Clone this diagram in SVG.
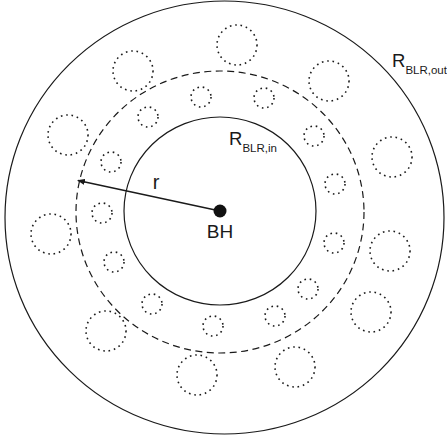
<svg xmlns="http://www.w3.org/2000/svg" width="447" height="441" viewBox="0 0 447 441">
<style>
.solid{fill:none;stroke:#1a1a1a;stroke-width:1.2}
.dash{fill:none;stroke:#1a1a1a;stroke-width:1.2;stroke-dasharray:7 4.5}
.dot{fill:none;stroke:#1a1a1a;stroke-width:1.6;stroke-dasharray:1.6 3.8}
.lbl{font-family:"Liberation Sans",Arial,sans-serif;fill:#1a1a1a}
</style>
<defs>
<marker id="ah" markerWidth="8" markerHeight="6" refX="7" refY="3" orient="auto" markerUnits="userSpaceOnUse">
<path d="M0,0 L8,3 L0,6 Z" fill="#1a1a1a"/>
</marker>
</defs>
<rect width="447" height="441" fill="#fff"/>
<g id="outer-boundary"><ellipse class="solid" cx="224.5" cy="217.5" rx="219.5" ry="216.5"/></g>
<g id="inner-boundary"><ellipse class="solid" cx="220" cy="211" rx="96" ry="94"/></g>
<g id="radius-r"><ellipse class="dash" cx="220" cy="212" rx="144" ry="141"/></g>
<g id="clouds-large">
<circle class="dot" cx="237" cy="45" r="20"/>
<circle class="dot" cx="133" cy="71" r="20"/>
<circle class="dot" cx="329" cy="81" r="20"/>
<circle class="dot" cx="68" cy="135" r="20"/>
<circle class="dot" cx="392" cy="157" r="20"/>
<circle class="dot" cx="51" cy="234" r="20"/>
<circle class="dot" cx="390" cy="251" r="20"/>
<circle class="dot" cx="371" cy="312" r="20"/>
<circle class="dot" cx="106" cy="331" r="20"/>
<circle class="dot" cx="295" cy="367" r="20"/>
<circle class="dot" cx="197" cy="375" r="20"/>
</g>
<g id="clouds-small">
<circle class="dot" cx="201" cy="97" r="10"/>
<circle class="dot" cx="264" cy="98" r="10"/>
<circle class="dot" cx="148" cy="117" r="10"/>
<circle class="dot" cx="314" cy="136" r="10"/>
<circle class="dot" cx="111" cy="162" r="10"/>
<circle class="dot" cx="335" cy="184" r="10"/>
<circle class="dot" cx="102" cy="213" r="10"/>
<circle class="dot" cx="334" cy="243" r="10"/>
<circle class="dot" cx="114" cy="262" r="10"/>
<circle class="dot" cx="308" cy="289" r="10"/>
<circle class="dot" cx="152" cy="304" r="10"/>
<circle class="dot" cx="275" cy="316" r="10"/>
<circle class="dot" cx="213" cy="326" r="10"/>
</g>
<g id="connectors">
<line x1="220" y1="211" x2="78" y2="180.5" stroke="#1a1a1a" stroke-width="1.3" marker-end="url(#ah)"/>
</g>
<g id="bh">
<circle cx="220" cy="211" r="6.5" fill="#111"/>
<text class="lbl" x="220" y="238" font-size="19" text-anchor="middle">BH</text>
</g>
<g id="label-r"><text class="lbl" x="156" y="189" font-size="20" text-anchor="middle">r</text></g>
<g id="label-in"><text class="lbl" x="229" y="145" font-size="18.5">R<tspan font-size="11.5" dy="7">BLR,in</tspan></text></g>
<g id="label-out"><text class="lbl" x="392" y="67" font-size="18.5">R<tspan font-size="11.5" dy="7">BLR,out</tspan></text></g>
</svg>
